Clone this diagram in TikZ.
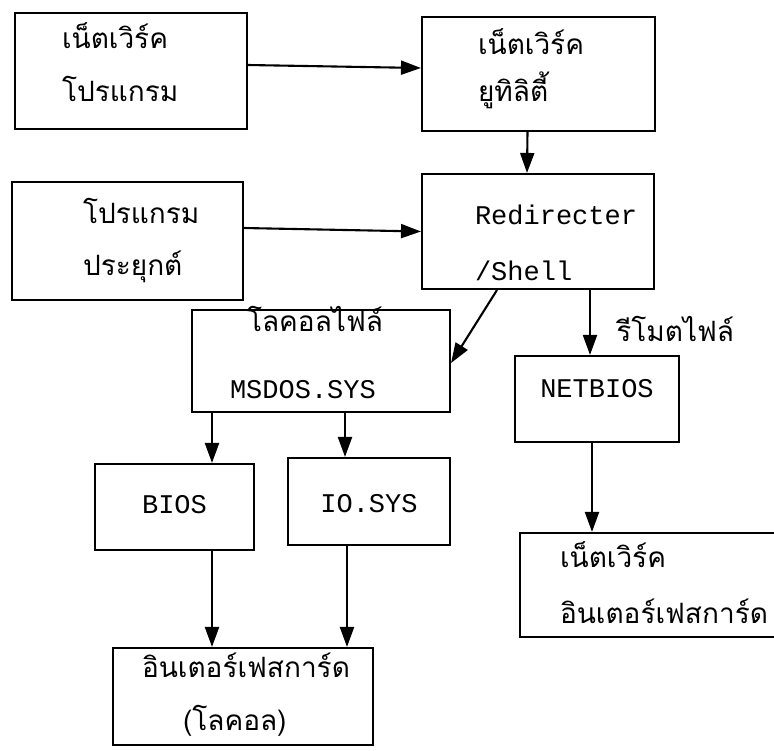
\documentclass[tikz,border=0pt]{standalone}
\usepackage{fontspec}
\setmonofont{Liberation Mono}
\newfontfamily\thaifont[Script=Thai]{Loma}
\usetikzlibrary{positioning, arrows.meta}

\begin{document}
\begin{tikzpicture}[x=1pt, y=-1pt]
    \tikzset{
      box/.style={
        rectangle, draw=black, line width=2.1pt,
        inner xsep=0pt, inner ysep=0pt, align=left,
        text height=0pt, font=\fontsize{28}{50}\selectfont\thaifont
      },
      code/.style={font=\fontsize{27}{56}\selectfont\ttfamily},
      arr/.style={-{Triangle[length=20pt,width=14pt]}, line width=2.1pt}
    }
    \useasboundingbox (0,0) rectangle (774,750);
    \clip (0,0) rectangle (774,750);

    % Row 1
    \node[box, minimum width=232pt, minimum height=116pt, text width=138pt, text depth=46pt] (b1) at (131,71) {เน็ตเวิร์ค\\[3pt]โปรแกรม};
    \node[box, minimum width=233pt, minimum height=114pt, text width=121pt, text depth=40pt] (b2) at (538.5,74) {เน็ตเวิร์ค\\[-3pt]ยูทิลิตี้};

    % Row 2
    \node[box, code, minimum width=232pt, minimum height=115pt, text width=126pt, text depth=15pt] (b3) at (538,231.5) {Redirecter\\/Shell};
    \node[box, minimum width=231pt, minimum height=118pt, text width=89pt, text depth=36pt] (b4) at (127.5,241) {โปรแกรม\\[2pt]ประยุกต์};

    % Row 3
    \node[box, minimum width=258pt, minimum height=102pt, text width=182pt, text depth=60pt] (b5) at (321,361) {\hspace*{17pt}โลคอลไฟล์\\[17pt]{\ttfamily\fontsize{27}{50}\selectfont MSDOS.SYS}};
    \node[box, code, minimum width=164pt, minimum height=86pt, align=center, text depth=4pt] (b6) at (597,399) {NETBIOS};

    % Row 4
    \node[box, code, minimum width=159pt, minimum height=86pt, align=center, text height=12pt, text depth=0pt] (b8) at (174.5,507) {BIOS};
    \node[box, code, minimum width=162pt, minimum height=87pt, align=center, text height=21pt, text depth=0pt] (b9) at (369,501.5) {IO.SYS};
    \node[box, minimum width=270pt, minimum height=104pt, text width=190pt, text depth=36pt] (b7) at (655,585) {เน็ตเวิร์ค\\[6pt]อินเตอร์เฟสการ์ด};

    % Row 5
    \node[box, minimum width=260pt, minimum height=97pt, text width=202pt, text depth=39pt] (b10) at (243,696.5) {อินเตอร์เฟสการ์ด\\[3pt]\hspace*{41pt}(โลคอล)};

    \draw[arr] ([yshift=6pt]b1.east) -- ([yshift=6pt]b2.west);
    \draw[arr] ([xshift=-11pt]b2.south) -- ([xshift=-11pt]b3.north);
    \draw[arr] ([yshift=13pt]b4.east) -- (b3.west);
    \draw[arr] ([xshift=-41pt]b3.south) -- ([yshift=-2pt]b5.east);
    \draw[arr] ([xshift=52pt]b3.south) -- node[right=22pt, yshift=-6pt, font=\fontsize{28}{30}\selectfont\thaifont] (l1) {รีโมตไฟล์} ([xshift=-7pt]b6.north);
    \draw[arr] ([xshift=-5pt]b6.south) -- ([xshift=-5pt]b6.south |- b7.north);
    \draw[arr] ([xshift=-109pt]b5.south) -- ([xshift=-109pt]b5.south |- b8.north);
    \draw[arr] ([xshift=24pt]b5.south) -- ([xshift=24pt]b5.south |- b9.north);
    \draw[arr] ([xshift=37.5pt]b8.south) -- ([xshift=37.5pt]b8.south |- b10.north);
    \draw[arr] ([xshift=-22pt]b9.south) -- ([xshift=-22pt]b9.south |- b10.north);
  \end{tikzpicture}
\end{document}
